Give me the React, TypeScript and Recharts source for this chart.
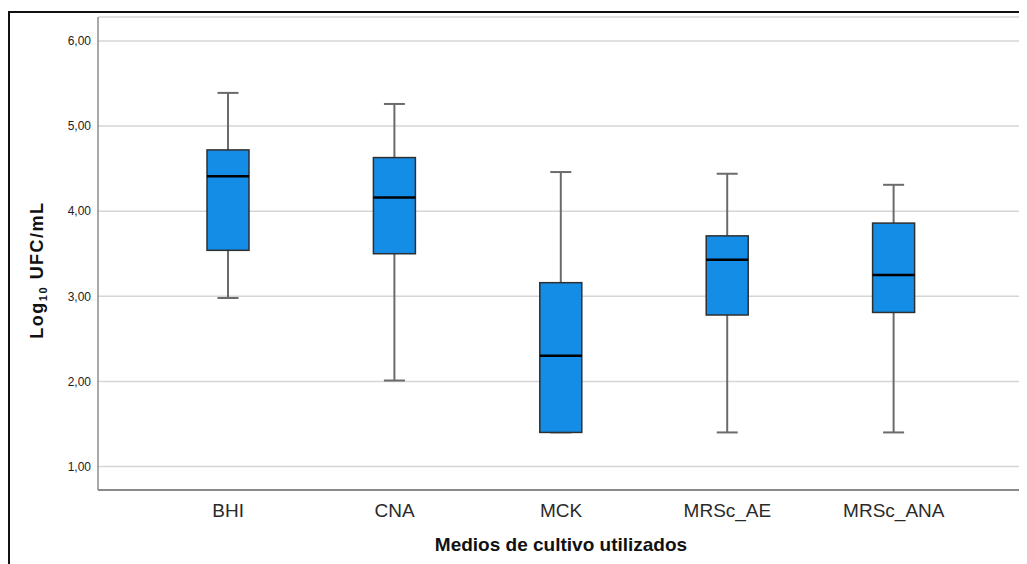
import React from 'react';
import { ComposedChart, Bar, XAxis, YAxis, CartesianGrid } from 'recharts';

// Boxplot summary per culture medium (Log10 UFC/mL)
const categories = ['BHI', 'CNA', 'MCK', 'MRSc_AE', 'MRSc_ANA'];
const minValues = [2.98, 2.01, 1.4, 1.4, 1.4];
const q1Values = [3.54, 3.5, 1.4, 2.78, 2.81];
const medianValues = [4.41, 4.16, 2.3, 3.43, 3.25];
const q3Values = [4.72, 4.63, 3.16, 3.71, 3.86];
const maxValues = [5.39, 5.26, 4.46, 4.44, 4.31];
const yTicks = [1, 2, 3, 4, 5, 6];

const data = categories.map((name, i) => ({
  name,
  min: minValues[i],
  q1: q1Values[i],
  median: medianValues[i],
  q3: q3Values[i],
  max: maxValues[i],
}));

const FONT = '"Liberation Sans", Arial, sans-serif';

const BoxShape = (props: any) => {
  const { x, y, width, height, payload } = props;
  if (!payload) return null;
  const top = Math.min(y, y + height);
  const h = Math.abs(height);
  const span = payload.max - payload.min;
  const yOf = (v: number) => top + ((payload.max - v) / span) * h;
  const cx = x + width / 2;
  const capHalf = width / 4;
  const yMax = yOf(payload.max);
  const yMin = yOf(payload.min);
  const yQ3 = yOf(payload.q3);
  const yQ1 = yOf(payload.q1);
  const yMed = yOf(payload.median);
  return (
    <g>
      <line x1={cx} x2={cx} y1={yMax} y2={yQ3} stroke="#6b6b6b" strokeWidth={2} />
      <line x1={cx} x2={cx} y1={yQ1} y2={yMin} stroke="#6b6b6b" strokeWidth={2} />
      <line x1={cx - capHalf} x2={cx + capHalf} y1={yMax} y2={yMax} stroke="#6b6b6b" strokeWidth={2} />
      <line x1={cx - capHalf} x2={cx + capHalf} y1={yMin} y2={yMin} stroke="#6b6b6b" strokeWidth={2} />
      <rect x={x} y={yQ3} width={width} height={yQ1 - yQ3} fill="#138de6" stroke="#2f2f2f" strokeWidth={1.5} />
      <line x1={x} x2={x + width} y1={yMed} y2={yMed} stroke="#000" strokeWidth={2.5} />
    </g>
  );
};

const YLabel = () => (
  <text
    transform="translate(35,262) rotate(-90)"
    textAnchor="middle"
    fontFamily={FONT}
    fontWeight="bold"
    fontSize={18}
    fill="#111"
    letterSpacing={1.5}
  >
    Log
    <tspan fontSize={11} dy={4}>10</tspan>
    <tspan dy={-4}> UFC/mL</tspan>
  </text>
);

export default function App() {
  return (
    <div style={{ position: 'relative', width: 1019, height: 556, overflow: 'hidden', background: '#fff' }}>
      <div
        style={{
          position: 'absolute',
          left: 0,
          top: 3,
          width: 1040,
          height: 600,
          borderTop: '2px solid #111',
          borderLeft: '2px solid #111',
        }}
      />
      <div style={{ position: 'absolute', left: 0, top: 0 }}>
        <ComposedChart width={1019} height={556} data={data} margin={{ top: 9, right: 3, bottom: 0, left: 0 }}>
          <CartesianGrid vertical={false} stroke="#d6d6d6" strokeWidth={1.5} />
          <XAxis
            dataKey="name"
            type="category"
            padding={{ left: 47, right: 47 }}
            height={74}
            axisLine={{ stroke: '#6e6e6e', strokeWidth: 1.5 }}
            tickLine={false}
            tickSize={8}
            tickMargin={6}
            tick={{ fill: '#2a2a2a', fontSize: 19, fontFamily: FONT }}
            label={{
              value: 'Medios de cultivo utilizados',
              position: 'insideBottom',
              offset: 13,
              fill: '#111',
              fontSize: 19,
              fontWeight: 'bold',
              fontFamily: FONT,
            }}
          />
          <YAxis
            type="number"
            width={90}
            domain={[0.7235, 6.282]}
            allowDataOverflow
            ticks={yTicks}
            tickFormatter={(v: number) => v.toFixed(2).replace('.', ',')}
            axisLine={{ stroke: '#8c8c8c', strokeWidth: 1.5 }}
            tickLine={false}
            tickSize={5}
            tickMargin={2}
            tick={{ fill: '#222', fontSize: 12, fontFamily: FONT }}
            label={<YLabel />}
          />
          <Bar
            dataKey={(d: any) => [d.min, d.max]}
            barSize={42}
            shape={<BoxShape />}
            isAnimationActive={false}
          />
        </ComposedChart>
      </div>
    </div>
  );
}
